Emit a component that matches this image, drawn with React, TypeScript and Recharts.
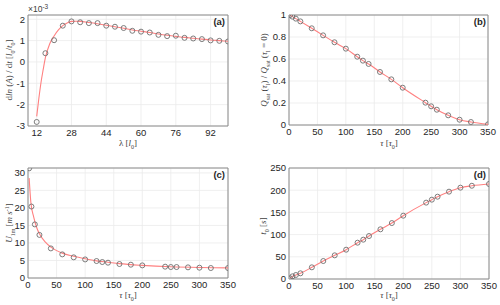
import { ComposedChart, Line, Scatter, XAxis, YAxis, CartesianGrid, ReferenceArea } from "recharts";

// (a) growth rate vs wavelength
const lambdaPts = [12, 16, 20, 24, 28, 32, 36, 40, 44, 48, 52, 56, 60, 64, 68, 72, 76, 80, 84, 88, 92, 96, 100];
const growthPts = [-2.81, 0.41, 1.02, 1.70, 1.90, 1.86, 1.82, 1.82, 1.70, 1.65, 1.59, 1.46, 1.42, 1.38, 1.27, 1.21, 1.23, 1.13, 1.10, 1.07, 1.01, 0.99, 0.96];
const lambdaFit = [12, 13, 14, 15, 16, 18, 20, 22, 24, 26, 28, 30, 32, 36, 40, 44, 48, 52, 56, 60, 64, 68, 72, 76, 80, 84, 88, 92, 96, 100];
const growthFit = [-2.55, -1.7, -0.95, -0.35, 0.2, 0.85, 1.22, 1.5, 1.7, 1.83, 1.9, 1.91, 1.9, 1.85, 1.79, 1.72, 1.65, 1.58, 1.5, 1.44, 1.38, 1.31, 1.25, 1.2, 1.15, 1.11, 1.07, 1.03, 1.0, 0.97];

// (b)-(d) against tau
const tauPts = [2, 6, 12, 20, 40, 60, 80, 100, 120, 130, 140, 160, 180, 200, 240, 250, 260, 280, 300, 320, 350];
const qsatPts = [1.0, 0.985, 0.967, 0.942, 0.879, 0.815, 0.752, 0.694, 0.621, 0.585, 0.555, 0.482, 0.415, 0.339, 0.203, 0.17, 0.139, 0.088, 0.048, 0.027, 0.006];
const u1mPts = [31.3, 20.4, 15.3, 12.3, 8.45, 6.74, 5.9, 5.3, 4.84, 4.56, 4.37, 3.99, 3.8, 3.6, 3.23, 3.13, 3.13, 3.04, 2.94, 2.85, 2.85];
const tauFitU = [2, 5, 10, 15, 20, 30, 40, 60, 80, 100, 120, 140, 160, 200, 250, 300, 350];
const u1mFit = [28.5, 21.6, 17.4, 14.5, 12.6, 10.3, 8.8, 7.1, 6.2, 5.5, 4.9, 4.5, 4.1, 3.6, 3.2, 3.0, 2.9];
const t0Pts = [1.5, 6, 9, 12.8, 26.3, 40.5, 53.3, 66, 81.8, 88.6, 96.8, 111.9, 126, 142.6, 172, 178.7, 185.4, 196.7, 205.7, 210, 214];

const lambdaTicks = [12, 28, 44, 60, 76, 92];
const tauTicks = [0, 50, 100, 150, 200, 250, 300, 350];
const growthTicks = [-3, -2, -1, 0, 1, 2];
const qsatTicks = [0, 0.2, 0.4, 0.6, 0.8, 1];
const u1mTicks = [0, 5, 10, 15, 20, 25, 30];
const t0Ticks = [0, 50, 100, 150, 200, 250];

const pairs = (xs: number[], ys: number[]) => xs.map((x, i) => ({ x, y: ys[i] }));

const tickStyle = { fontSize: 9.5, fill: "#262626", fontFamily: "Liberation Sans" };
const serif = "Liberation Serif";

const Circle = (props: any) => {
    const { cx, cy } = props;
    return <circle cx={cx} cy={cy} r={2.5} fill="none" stroke="#6e6e6e" strokeWidth={0.9} />;
};

function Panel(props: any) {
    const { left, top, width, height, margin, yWidth, xDomain, xTicks, yDomain, yTicks, points, fit } = props;
    return (
        <div style={{ position: "absolute", left, top }}>
            <ComposedChart width={width} height={height} margin={margin}>
                <CartesianGrid stroke="#ebebeb" strokeWidth={0.8} />
                <XAxis
                    type="number"
                    dataKey="x"
                    domain={xDomain}
                    ticks={xTicks}
                    interval={0}
                    allowDataOverflow
                    height={20}
                    axisLine={false}
                    tickLine={false}
                    tickSize={0}
                    tickMargin={3}
                    tick={tickStyle}
                />
                <YAxis
                    type="number"
                    dataKey="y"
                    domain={yDomain}
                    ticks={yTicks}
                    interval={0}
                    allowDataOverflow
                    width={yWidth}
                    axisLine={false}
                    tickLine={false}
                    tickSize={0}
                    tickMargin={3}
                    tick={tickStyle}
                />
                <ReferenceArea
                    x1={xDomain[0]}
                    x2={xDomain[1]}
                    y1={yDomain[0]}
                    y2={yDomain[1]}
                    fill="none"
                    stroke="#8a8a8a"
                    strokeWidth={1}
                    ifOverflow="visible"
                />
                <Line
                    data={fit}
                    dataKey="y"
                    type="monotone"
                    stroke="#ff8080"
                    strokeWidth={1.1}
                    dot={false}
                    isAnimationActive={false}
                />
                <Scatter data={points} dataKey="y" shape={Circle} isAnimationActive={false} />
            </ComposedChart>
        </div>
    );
}

const sub = { baselineShift: "sub", fontSize: 6 } as any;
const it = { fontStyle: "italic" } as any;

export default function App() {
    return (
        <div style={{ position: "absolute", left: 0, top: 0, width: 500, height: 305, background: "#fff", overflow: "hidden" }}>
            <Panel
                left={0} top={0} width={250} height={152}
                margin={{ top: 15, right: 22, bottom: 6, left: 0 }} yWidth={28}
                xDomain={[8, 100]} xTicks={lambdaTicks}
                yDomain={[-3, 2.2]} yTicks={growthTicks}
                points={pairs(lambdaPts, growthPts)} fit={pairs(lambdaFit, growthFit)}
            />
            <Panel
                left={250} top={0} width={250} height={152}
                margin={{ top: 15, right: 12, bottom: 7, left: 0 }} yWidth={39}
                xDomain={[0, 350]} xTicks={tauTicks}
                yDomain={[0, 1]} yTicks={qsatTicks}
                points={pairs(tauPts, qsatPts)} fit={pairs(tauPts, qsatPts)}
            />
            <Panel
                left={0} top={152} width={250} height={153}
                margin={{ top: 16, right: 22, bottom: 7, left: 0 }} yWidth={28}
                xDomain={[0, 350]} xTicks={tauTicks}
                yDomain={[0, 31.4]} yTicks={u1mTicks}
                points={pairs(tauPts, u1mPts)} fit={pairs(tauFitU, u1mFit)}
            />
            <Panel
                left={250} top={152} width={250} height={153}
                margin={{ top: 16, right: 11, bottom: 6, left: 0 }} yWidth={39}
                xDomain={[0, 350]} xTicks={tauTicks}
                yDomain={[0, 250]} yTicks={t0Ticks}
                points={pairs(tauPts, t0Pts)} fit={pairs(tauPts, t0Pts)}
            />
            <svg width={500} height={305} style={{ position: "absolute", left: 0, top: 0, pointerEvents: "none" }}>
                <g fill="#404040" fontFamily={serif} fontSize={9}>
                    {/* axis titles */}
                    <text transform="translate(12,70) rotate(-90)" textAnchor="middle">
                        d<tspan {...it}>ln</tspan> (<tspan {...it}>A</tspan>) / d<tspan {...it}>t</tspan>  [<tspan {...it}>l</tspan><tspan {...sub}>0</tspan>/<tspan {...it}>t</tspan><tspan {...sub}>0</tspan>]
                    </text>
                    <text x={128} y={146} textAnchor="middle">
                        λ  [<tspan {...it}>l</tspan><tspan {...sub}>0</tspan>]
                    </text>
                    <text transform="translate(267,70) rotate(-90)" textAnchor="middle">
                        <tspan {...it}>Q</tspan><tspan {...sub}>sat</tspan> (<tspan {...it}>τ</tspan><tspan {...sub}>l</tspan>) / <tspan {...it}>Q</tspan><tspan {...sub}>sat</tspan> (<tspan {...it}>τ</tspan><tspan {...sub}>l</tspan> = 0)
                    </text>
                    <text x={389} y={146} textAnchor="middle">
                        <tspan {...it}>τ</tspan>  [<tspan {...it}>τ</tspan><tspan {...sub}>0</tspan>]
                    </text>
                    <text transform="translate(12,223) rotate(-90)" textAnchor="middle">
                        <tspan {...it}>U</tspan><tspan {...sub}>1m</tspan>  [<tspan {...it}>m s</tspan><tspan baselineShift="super" fontSize={6}>-1</tspan>]
                    </text>
                    <text x={128} y={298} textAnchor="middle">
                        <tspan {...it}>τ</tspan>  [<tspan {...it}>τ</tspan><tspan {...sub}>0</tspan>]
                    </text>
                    <text transform="translate(266,226) rotate(-90)" textAnchor="middle">
                        <tspan {...it}>t</tspan><tspan {...sub}>0</tspan>  [<tspan {...it}>s</tspan>]
                    </text>
                    <text x={389} y={298} textAnchor="middle">
                        <tspan {...it}>τ</tspan>  [<tspan {...it}>τ</tspan><tspan {...sub}>0</tspan>]
                    </text>
                </g>
                <text x={28} y={12} fill="#404040" fontFamily="Liberation Sans" fontSize={8.5}>
                    ×10<tspan baselineShift="super" fontSize={6.5}>-3</tspan>
                </text>
                <g fill="#262626" fontFamily="Liberation Sans" fontSize={9.5} fontWeight="bold" textAnchor="end">
                    <text x={225} y={25}>(a)</text>
                    <text x={486} y={25}>(b)</text>
                    <text x={225} y={178}>(c)</text>
                    <text x={486} y={178}>(d)</text>
                </g>
            </svg>
        </div>
    );
}
